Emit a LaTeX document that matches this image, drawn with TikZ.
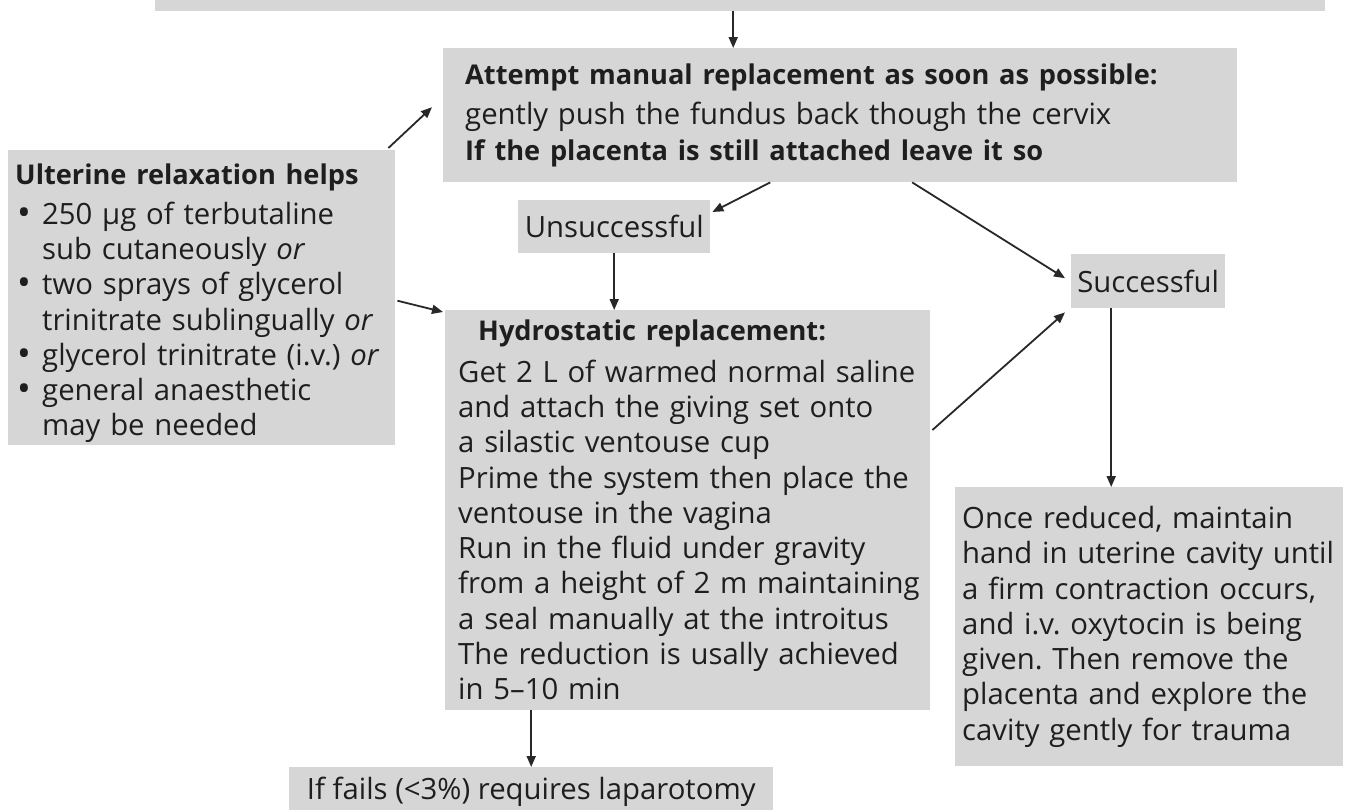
\documentclass[tikz,border=0pt]{standalone}
\usepackage{fontspec}
\setmainfont{Open Sans}
\usepackage{tikz}
\usetikzlibrary{arrows.meta}

\definecolor{boxgray}{RGB}{214,214,214}
\definecolor{inkgray}{RGB}{30,30,30}
\definecolor{arrowgray}{RGB}{40,40,40}

\newcommand{\itembul}{\makebox[27pt][l]{\hspace{2pt}\smash{\raisebox{-1pt}{\scalebox{1.25}{\textbullet}}}}}
\newcommand{\itemind}{\hspace*{27pt}}
\newcommand{\hd}[1]{{\fontsize{27.2}{35.3}\selectfont\bfseries #1}}

\begin{document}
\frenchspacing
\begin{tikzpicture}[x=1pt, y=1pt,
    box/.style={fill=boxgray, inner sep=0pt, align=left, anchor=north west,
        text=inkgray, font=\fontsize{29.3}{35.3}\selectfont},
    arr/.style={-{Triangle[length=11pt,width=9pt]}, line width=1.8pt, draw=arrowgray}]
        \useasboundingbox (0,0) rectangle (1349,-809);
        \clip (0,0) rectangle (1349,-809);

        % Boxes
        \node[box, anchor=south west, minimum width=1170pt, minimum height=41pt] (prev) at (155,-11) {};
        \node[box, text width=794pt, minimum height=134pt] (manual) at (443,-48)
            {\leftskip=22pt \hd{Attempt manual replacement as soon as possible:}\\[5pt]
             gently push the fundus back though the cervix\\
             \hd{If the placenta is still attached leave it so}\par};
        \node[box, text width=387pt, minimum height=295pt] (relax) at (8,-150)
            {\leftskip=7pt \rule{0pt}{32pt}\hd{Ulterine relaxation helps}\\[4.5pt]
             \itembul 250 µg of terbutaline\\
             \itemind sub cutaneously \textit{or}\\
             \itembul two sprays of glycerol\\
             \itemind trinitrate sublingually \textit{or}\\
             \itembul glycerol trinitrate (i.v.) \textit{or}\\
             \itembul general anaesthetic\\
             \itemind may be needed\par};
        \node[box, align=center, minimum width=192pt, minimum height=53pt] (unsucc) at (518,-200) {Unsuccessful};
        \node[box, align=center, minimum width=154pt, minimum height=54pt] (succ) at (1071,-254) {Successful};
        \node[box, text width=485pt, minimum height=400pt] (hydro) at (445,-310)
            {\leftskip=13pt \hspace*{20pt}\hd{Hydrostatic replacement:}\\[6pt]
             Get 2 L of warmed normal saline\\
             and attach the giving set onto\\
             a silastic ventouse cup\\
             Prime the system then place the\\
             ventouse in the vagina\\
             Run in the fluid under gravity\\
             from a height of 2 m maintaining\\
             a seal manually at the introitus\\
             The reduction is usally achieved\\
             in 5--10 min\par};
        \node[box, text width=388pt, minimum height=279pt] (reduced) at (955,-487)
            {\leftskip=7pt Once reduced, maintain\\
             hand in uterine cavity until\\
             a firm contraction occurs,\\
             and i.v. oxytocin is being\\
             given. Then remove the\\
             placenta and explore the\\
             cavity gently for trauma\par};
        \node[box, align=center, minimum width=484pt, minimum height=50pt] (lap) at (289,-767)
            {If fails (<3\%) requires laparotomy};

        % Connectors
        \draw[arr] ([xshift=-7pt]prev.south) -- ([xshift=-7pt]prev.south |- manual.north);
        \draw[arr] ([xshift=-7pt,yshift=2pt]relax.north east) -- ([shift={(-11pt,8pt)}]manual.west);
        \draw[arr] ([xshift=2pt,yshift=-3pt]relax.east) -- ([shift={(-2pt,-2pt)}]hydro.north west);
        \draw[arr] ([xshift=-70pt]manual.south) -- ([shift={(2pt,-12pt)}]unsucc.north east);
        \draw[arr] ([xshift=72pt]manual.south) -- ([shift={(-6pt,3pt)}]succ.west);
        \draw[arr] (unsucc.south) -- (unsucc.south |- hydro.north);
        \draw[arr] ([shift={(2pt,-120pt)}]hydro.north east) -- ([shift={(-6pt,-4pt)}]succ.south west);
        \draw[arr] ([xshift=-37pt]succ.south) -- ([xshift=-37pt]succ.south |- reduced.north);
        \draw[arr] (lap.north |- hydro.south) -- (lap.north);
\end{tikzpicture}
\end{document}
